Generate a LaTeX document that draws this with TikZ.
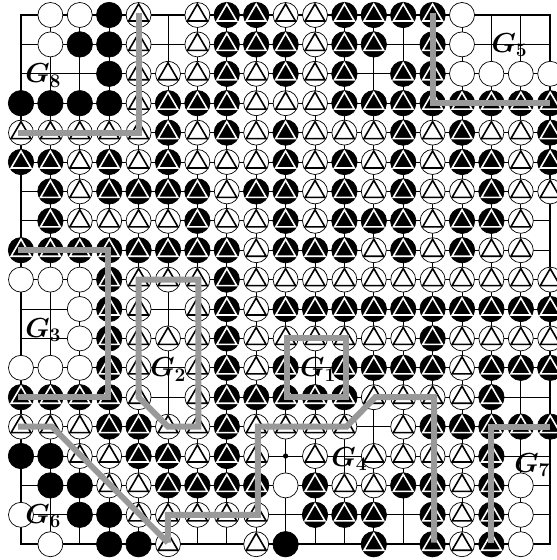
\documentclass[tikz,border=0pt]{standalone}
\usepackage{fix-cm}
\usepackage{xcolor}
\usepackage{tikz}
\usetikzlibrary{calc}
\definecolor{groupline}{RGB}{153, 153, 153}

% triangle mark on a stone
\newcommand{\markstone}[2]{%
  \draw[#2, line width=1.6pt, miter limit=10] ($(#1)+(0pt,11pt)$) -- ($(#1)+(9.9pt,-6pt)$) -- ($(#1)+(-9.9pt,-6pt)$) -- cycle;}

\tikzset{
  whitestone/.style={draw=black, fill=white, line width=0.7pt},
  blackstone/.style={draw=black, fill=black, line width=0.7pt},
  groupborder/.style={draw=groupline, line width=6pt, line join=miter},
  grouplabel/.style={anchor=base west, inner sep=0pt, font=\fontsize{27.5}{27.5}\selectfont\boldmath}
}

\begin{document}
\begin{tikzpicture}[x=29.4pt, y=-29.4pt]
  \useasboundingbox (-0.714, -0.51) rectangle (18.231, 18.537);
  \clip (-0.714, -0.51) rectangle (18.231, 18.537);

  % Board lines
  \foreach \k in {1,...,17} {
    \draw[line width=0.7pt] (\k, 0) -- (\k, 18);
    \draw[line width=0.7pt] (0, \k) -- (18, \k);
  }
  \draw[line width=1.6pt] (0, 0) rectangle (18, 18);
  \fill (9, 15) circle (2.6pt);

  % Stones, row by row: e empty, w white, b black, t white marked, k black marked
  \foreach \rowlist [count=\j from 0] in {
    {e,w,w,b,t,e,t,k,k,t,t,k,k,k,k,w,e,e,e},
    {e,w,b,b,t,e,t,k,k,k,t,k,k,e,k,w,e,e,e},
    {e,e,e,b,t,t,t,k,t,k,t,k,e,k,k,w,w,w,w},
    {b,b,b,b,t,k,k,k,t,t,t,k,k,k,k,k,k,k,k},
    {t,t,t,t,t,k,t,k,t,k,t,t,t,k,t,k,t,t,k},
    {k,k,t,k,t,k,t,t,t,k,t,k,t,k,t,k,k,t,k},
    {e,k,t,k,k,k,k,t,k,k,t,k,t,k,t,t,k,t,t},
    {e,k,t,t,t,t,k,t,t,k,t,k,k,k,t,k,k,t,e},
    {k,k,k,k,k,k,k,k,t,k,k,k,t,k,t,k,t,t,e},
    {w,w,w,k,t,t,t,k,t,t,t,t,t,t,t,t,t,t,t},
    {e,e,w,k,t,e,t,k,t,k,k,k,k,k,k,k,k,k,k},
    {e,e,w,k,t,t,t,k,t,t,t,t,t,t,k,t,t,t,t},
    {w,w,w,k,t,e,t,k,t,k,e,k,k,k,k,t,k,k,k},
    {k,k,k,k,t,e,t,k,k,k,k,k,t,t,t,t,k,e,e},
    {t,t,t,k,k,t,t,k,t,t,t,t,e,t,k,k,k,k,k},
    {b,b,t,t,k,k,t,k,t,e,t,e,t,t,t,t,k,e,e},
    {e,b,b,t,t,k,k,k,k,w,k,t,t,k,k,t,k,w,e},
    {w,e,b,b,t,t,t,t,t,e,k,k,k,e,k,t,k,w,e},
    {e,w,e,b,b,t,e,e,t,b,e,e,k,e,k,t,k,w,e}} {
    \foreach \s [count=\i from 0] in \rowlist {
      \coordinate (P) at (\i, \j);
      \if\s w \draw[whitestone] (P) circle (12.5pt); \fi
      \if\s b \draw[blackstone] (P) circle (12.7pt); \fi
      \if\s t \draw[whitestone] (P) circle (12.5pt); \markstone{P}{black} \fi
      \if\s k \draw[blackstone] (P) circle (12.7pt); \markstone{P}{white} \fi
    }
  }

  % Group borders
  \draw[groupborder] (4, -0.08) -- (4, 4) -- (-0.1, 4);
  \draw[groupborder] (14, -0.08) -- (14, 3) -- (18, 3);
  \draw[groupborder] (-0.1, 8) -- (2.97, 8) -- (2.97, 13) -- (-0.1, 13);
  \draw[groupborder] (4, 9) -- (6.03, 9) -- (6.03, 14) -- (5, 14) -- (4, 13) -- cycle;
  \draw[groupborder] (9.05, 11) -- (11.05, 11) -- (11.05, 13) -- (9.05, 13) -- cycle;
  \draw[groupborder] (5, 17.95) -- (5, 17) -- (8.06, 17) -- (8.06, 14) -- (11.07, 14) -- (12.05, 13) -- (14.05, 13) -- (14.05, 17.95);
  \draw[groupborder] (-0.1, 14) -- (1.05, 14) -- (5, 17.95);
  \draw[groupborder] (15.97, 17.95) -- (15.97, 14) -- (18, 14);

  % Labels
  \node[grouplabel] (G1) at (9.49, 12.31) {$G_1$};
  \node[grouplabel] (G2) at (4.39, 12.31) {$G_2$};
  \node[grouplabel] (G3) at (0.14, 10.96) {$G_3$};
  \node[grouplabel] (G4) at (10.55, 15.35) {$G_4$};
  \node[grouplabel] (G5) at (16.0, 1.26) {$G_5$};
  \node[grouplabel] (G6) at (0.14, 17.3) {$G_6$};
  \node[grouplabel] (G7) at (16.77, 15.55) {$G_7$};
  \node[grouplabel] (G8) at (0.14, 2.31) {$G_8$};
\end{tikzpicture}
\end{document}
